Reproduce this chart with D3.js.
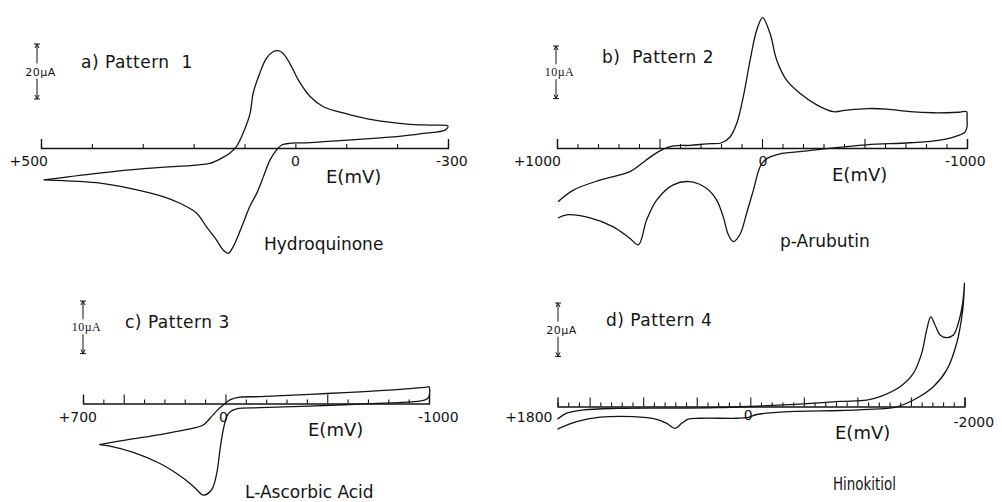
<!DOCTYPE html>
<html>
<head>
<meta charset="utf-8">
<script src="https://cdnjs.cloudflare.com/ajax/libs/d3/7.8.5/d3.min.js"></script>
<style>
  html, body { margin: 0; padding: 0; background: #fff; }
  svg { display: block; }
</style>
</head>
<body>
<div id="chart"></div>
<script>
/** Chart text */
const titles = ["a) Pattern  1", "b)  Pattern 2", "c) Pattern 3", "d) Pattern 4"];
const compounds = ["Hydroquinone", "p-Arubutin", "L-Ascorbic Acid", "Hinokitiol"];
const axisTitle = "E(mV)";

/** Potential window of each scan (mV), start -> switching point */
const scanRanges = [[500, -300], [1000, -1000], [700, -1000], [1800, -2000]];
const tickValuesLabelled = [[500, 0, -300], [1000, 0, -1000], [700, 0, -1000], [1800, 0, -2000]];
const tickLabels = [["+500", "0", "-300"], ["+1000", "0", "-1000"], ["+700", "0", "-1000"], ["+1800", "0", "-2000"]];

/** Current scale bars (uA) */
const scaleBars = [20, 10, 10, 20];
const scaleBarLabels = ["20\u00b5A", "10\u00b5A", "10\u00b5A", "20\u00b5A"];

/** Voltammograms: [E (mV), I (uA)] */
const hydroquinone = [
  [495, -11.6], [390, -9.2], [292, -7.4], [194, -6.2], [168, -5.6], [145, -3.7], [129, -1.9],
  [116, 0.5], [103, 5.3], [89, 12.6], [83, 19.9], [70, 27.2], [57, 32.6], [44, 35.0], [34, 35.4],
  [24, 34.4], [11, 30.8], [-6, 24.7], [-29, 18.7], [-55, 15.0], [-101, 12.4], [-153, 10.2],
  [-219, 8.7], [-271, 8.3], [-300, 8.0],
  [-294, 6.5], [-251, 5.3], [-199, 4.1], [-153, 3.5], [-87, 2.7], [-22, 1.9], [11, 1.7], [27, 1.1],
  [37, -0.7], [50, -4.4], [63, -10.5], [76, -16.5], [89, -21.0], [102, -27.0], [115, -33.0],
  [124, -36.5], [132, -38.3], [142, -37.1], [155, -33.5], [175, -28.6], [194, -23.7], [227, -20.1],
  [260, -17.7], [325, -14.7], [391, -12.6], [456, -11.9], [495, -11.6],
];
const arbutin = [
  [995, -10.2], [920, -8.0], [790, -6.1], [644, -4.5], [595, -3.2], [530, -1.3], [481, -0.2],
  [433, 0.4], [351, 0.5], [270, 0.8], [197, 1.0], [156, 2.1], [123, 4.7], [91, 9.8], [58, 16.7],
  [26, 22.4], [-3, 24.8], [-39, 21.8], [-72, 16.7], [-120, 12.9], [-185, 10.4], [-267, 8.2],
  [-348, 6.9], [-413, 7.2], [-511, 7.5], [-608, 7.4], [-722, 6.9], [-836, 6.7], [-960, 6.8],
  [-998, 6.9], [-1000, 5.6], [-1000, 4.0], [-990, 3.0], [-966, 2.5], [-868, 1.5], [-722, 1.0],
  [-511, 0.6], [-316, -0.1], [-185, -0.7],
  [-88, -1.1], [-39, -1.7], [-15, -2.3], [10, -3.6], [42, -8.0], [75, -12.4], [107, -16.4],
  [140, -17.8], [164, -16.5], [189, -13.1], [221, -9.9], [270, -7.7], [351, -6.4], [433, -7.0],
  [514, -9.9], [563, -13.7], [603, -18.4], [644, -17.2], [725, -15.0], [839, -13.3], [953, -12.7],
  [995, -13.3],
];
const ascorbicAcid = [
  [620, -7.8], [485, -6.9], [322, -5.9], [158, -4.7], [109, -4.1], [76, -2.8], [43, -1.4],
  [11, -0.3], [-22, 0.7], [-72, 1.2], [-170, 1.3], [-333, 1.6], [-498, 1.9], [-661, 2.2],
  [-825, 2.6], [-989, 3.1], [-1000, 3.2], [-1000, 1.3], [-981, 0.7], [-907, 0.3], [-661, -0.1],
  [-415, -0.5], [-170, -0.8], [-55, -1.0], [-22, -1.6], [-6, -2.5], [11, -5.0], [27, -8.8],
  [43, -13.3], [68, -16.4], [109, -17.4], [141, -16.4], [174, -15.2], [240, -13.3], [322, -11.4],
  [453, -9.3], [567, -8.1], [620, -7.8],
];
const hinokitiol = [
  [1800, -4.8], [1714, -2.5], [1559, -1.3], [1247, -0.7], [780, -0.6], [314, -0.4], [3, 0],
  [-371, 0.7], [-838, 1.9], [-1087, 2.4], [-1211, 3.7], [-1398, 7.4], [-1522, 12.4], [-1600, 19.9],
  [-1647, 28.7], [-1685, 33.6], [-1725, 30.5], [-1772, 26.8], [-1834, 25.8], [-1896, 26.8],
  [-1942, 31.2], [-1983, 38.7], [-2000, 46.3],
  [-1983, 36.1], [-1927, 23.7], [-1834, 13.7], [-1709, 7.4], [-1554, 3.1], [-1367, -0.1],
  [-1149, -1.0], [-838, -1.5], [-371, -1.9], [-60, -3.0], [33, -4.2], [127, -4.4], [469, -4.4],
  [579, -4.7], [640, -6.3], [703, -8.2], [780, -6.3], [874, -4.8], [1092, -3.8], [1403, -4.0],
  [1621, -5.7], [1800, -8.5],
];
const curves = [hydroquinone, arbutin, ascorbicAcid, hinokitiol];

/** Panel placement (pixels) */
const layout = [
  { xr: [41, 448], axisY: 148, pxPerUA: 2.75, major: 0, bar: [37, 44], barFont: "sans",
    title: [81, 68], name: [264, 250], nameLen: 0, unit: [326, 183],
    labels: [[7, 18, "end"], [0, 18, "middle"], [-12, 18, "start"]] },
  { xr: [557, 967], axisY: 148, pxPerUA: 5.26, major: 500, bar: [556, 46], barFont: "serif",
    title: [602, 63], name: [780, 247], nameLen: 0, unit: [832, 181],
    labels: [[4, 18, "end"], [1, 18, "middle"], [-22, 18, "start"]] },
  { xr: [83, 429], axisY: 403.5, pxPerUA: 5.26, major: 500, bar: [83, 301], barFont: "serif",
    title: [125, 328], name: [245, 498], nameLen: 0, unit: [308, 436],
    labels: [[14, 18, "end"], [-2, 18, "middle"], [-11, 18, "start"]] },
  { xr: [557.5, 964.5], axisY: 406.5, pxPerUA: 2.67, major: 500, bar: [558, 303], barFont: "sans",
    title: [606, 326], name: [833, 490], nameLen: 63, unit: [835, 439],
    labels: [[-5, 15, "end"], [-2, 13, "middle"], [-11, 20, "start"]] },
];

const width = 1002;
const height = 502;
const ink = "#141414";
const sans = "'DejaVu Sans', Verdana, sans-serif";
const serif = "'Liberation Serif', 'Times New Roman', serif";

const svg = d3
  .select("#chart")
  .append("svg")
  .attr("width", width)
  .attr("height", height)
  .style("background", "#fff");

const drawPanel = (i) => {
  const L = layout[i];
  const [eStart, eEnd] = scanRanges[i];
  const g = svg.append("g");

  const x = d3.scaleLinear().domain([eStart, eEnd]).range(L.xr);
  const y = d3.scaleLinear().domain([0, 10]).range([L.axisY, L.axisY - 10 * L.pxPerUA]);

  /** Potential axis, ticks pointing up */
  const lo = Math.min(eStart, eEnd);
  const hi = Math.max(eStart, eEnd);
  const axis = d3
    .axisBottom(x)
    .tickValues(d3.range(lo, hi + 1, 100))
    .tickSizeInner(-4)
    .tickSizeOuter(-9)
    .tickFormat("");
  const gAxis = g
    .append("g")
    .attr("transform", `translate(0,${L.axisY})`)
    .style("color", ink)
    .call(axis);
  gAxis.select(".domain").attr("stroke-width", 1.4);
  gAxis
    .selectAll(".tick line")
    .attr("stroke-width", 1.1)
    .attr("y2", (d) => (L.major && d % L.major === 0 ? -9 : -4));

  /** Tick labels */
  tickValuesLabelled[i].forEach((v, k) => {
    const [dx, dy, anchor] = L.labels[k];
    g.append("text")
      .attr("x", x(v) + dx)
      .attr("y", L.axisY + dy)
      .attr("text-anchor", anchor)
      .style("font-family", sans)
      .style("font-size", "14px")
      .attr("fill", ink)
      .text(tickLabels[i][k]);
  });

  /** Curve */
  const line = d3
    .line()
    .x((d) => x(d[0]))
    .y((d) => y(d[1]))
    .curve(d3.curveCatmullRom.alpha(0.5));
  g.append("path")
    .datum(curves[i])
    .attr("d", line)
    .attr("fill", "none")
    .attr("stroke", ink)
    .attr("stroke-width", 1.3)
    .attr("stroke-linejoin", "round");

  /** Current scale bar */
  const [bx, top] = L.bar;
  const bottom = top + (y(0) - y(scaleBars[i]));
  const mid = (top + bottom) / 2;
  const bar = g.append("g").attr("stroke", ink).attr("stroke-width", 1).attr("fill", "none");
  bar.append("line").attr("x1", bx - 3).attr("x2", bx + 3).attr("y1", top).attr("y2", top);
  bar.append("line").attr("x1", bx - 3).attr("x2", bx + 3).attr("y1", bottom).attr("y2", bottom);
  bar.append("line").attr("x1", bx).attr("x2", bx).attr("y1", top).attr("y2", mid - 8);
  bar.append("line").attr("x1", bx).attr("x2", bx).attr("y1", mid + 7).attr("y2", bottom);
  bar.append("path").attr("d", `M${bx - 2},${top + 4}L${bx},${top}L${bx + 2},${top + 4}`);
  bar.append("path").attr("d", `M${bx - 2},${bottom - 4}L${bx},${bottom}L${bx + 2},${bottom - 4}`);
  g.append("text")
    .attr("x", bx + 3.5)
    .attr("y", mid + 4)
    .attr("text-anchor", "middle")
    .style("font-family", L.barFont === "serif" ? serif : sans)
    .style("font-size", L.barFont === "serif" ? "12px" : "11px")
    .style("letter-spacing", "0.5px")
    .attr("fill", ink)
    .text(scaleBarLabels[i]);

  /** Titles */
  g.append("text")
    .attr("x", L.title[0])
    .attr("y", L.title[1])
    .style("font-family", sans)
    .style("font-size", "17px")
    .style("letter-spacing", "0.5px")
    .style("white-space", "pre")
    .attr("fill", ink)
    .text(titles[i]);
  g.append("text")
    .attr("x", L.unit[0])
    .attr("y", L.unit[1])
    .style("font-family", sans)
    .style("font-size", "18px")
    .attr("fill", ink)
    .text(axisTitle);
  const name = g
    .append("text")
    .attr("x", L.name[0])
    .attr("y", L.name[1])
    .style("font-family", sans)
    .style("font-size", "17px")
    .attr("fill", ink)
    .text(compounds[i]);
  if (L.nameLen) {
    name.attr("textLength", L.nameLen).attr("lengthAdjust", "spacingAndGlyphs");
  }
};

d3.range(4).forEach(drawPanel);
</script>
</body>
</html>
